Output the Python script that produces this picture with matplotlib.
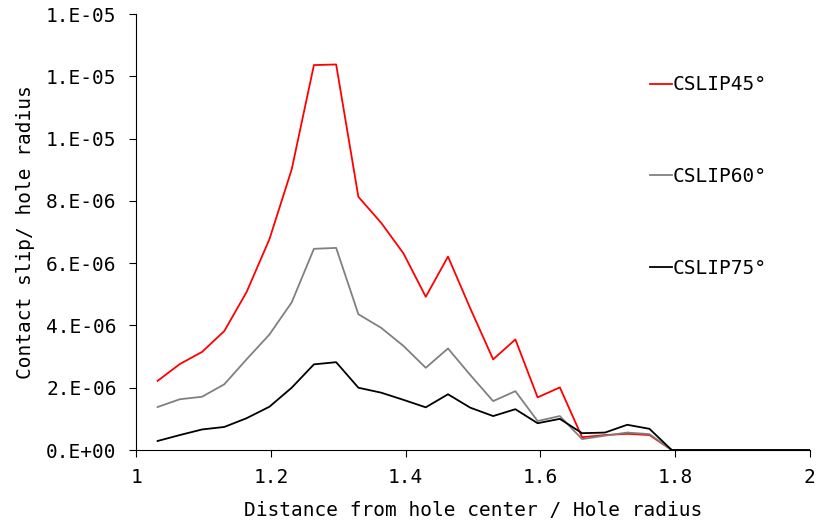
import matplotlib
matplotlib.use("Agg")
import matplotlib.pyplot as plt
from matplotlib.ticker import FuncFormatter, MultipleLocator

# distance from hole center / hole radius
x = [1.032, 1.065, 1.098, 1.131, 1.164, 1.198, 1.231, 1.264, 1.297, 1.330,
     1.364, 1.397, 1.430, 1.463, 1.496, 1.530, 1.563, 1.596, 1.629, 1.662,
     1.696, 1.729, 1.762, 1.795, 1.828, 1.861, 1.895, 1.928, 1.961, 2.0]

cslip45 = [2.22e-6, 2.76e-6, 3.15e-6, 3.82e-6, 5.07e-6, 6.77e-6, 9.01e-6, 1.236e-5, 1.238e-5, 8.13e-6,
           7.29e-6, 6.31e-6, 4.92e-6, 6.21e-6, 4.55e-6, 2.91e-6, 3.55e-6, 1.69e-6, 2.01e-6, 0.41e-6,
           0.48e-6, 0.52e-6, 0.48e-6, 0, 0, 0, 0, 0, 0, 0]
cslip60 = [1.38e-6, 1.63e-6, 1.71e-6, 2.11e-6, 2.91e-6, 3.71e-6, 4.74e-6, 6.46e-6, 6.49e-6, 4.36e-6,
           3.92e-6, 3.34e-6, 2.64e-6, 3.26e-6, 2.41e-6, 1.57e-6, 1.89e-6, 0.93e-6, 1.09e-6, 0.35e-6,
           0.46e-6, 0.56e-6, 0.51e-6, 0, 0, 0, 0, 0, 0, 0]
cslip75 = [0.29e-6, 0.48e-6, 0.66e-6, 0.74e-6, 1.02e-6, 1.39e-6, 2.0e-6, 2.75e-6, 2.82e-6, 2.0e-6,
           1.84e-6, 1.61e-6, 1.37e-6, 1.79e-6, 1.36e-6, 1.09e-6, 1.31e-6, 0.86e-6, 1.0e-6, 0.54e-6,
           0.56e-6, 0.81e-6, 0.68e-6, 0, 0, 0, 0, 0, 0, 0]

plt.rcParams['font.family'] = 'DejaVu Sans Mono'
plt.rcParams['font.size'] = 14

fig = plt.figure(figsize=(8.18, 5.27), dpi=100)
ax = fig.add_axes([0.1663, 0.1461, 0.990 - 0.1663, 0.9734 - 0.1461])

ax.plot(x, cslip45, color="#FF0000", lw=1.3, label="CSLIP45°")
ax.plot(x, cslip60, color="#808080", lw=1.3, label="CSLIP60°")
ax.plot(x, cslip75, color="black", lw=1.3, label="CSLIP75°")

ax.set_xlim(1, 2)
ax.set_ylim(0, 1.4e-5)
ax.xaxis.set_major_locator(MultipleLocator(0.2))
ax.yaxis.set_major_locator(MultipleLocator(2e-6))
ax.xaxis.set_major_formatter(FuncFormatter(lambda v, p: f"{v:g}"))
ax.yaxis.set_major_formatter(FuncFormatter(lambda v, p: f"{v:#.0E}"))

for s in ["top", "right"]:
    ax.spines[s].set_visible(False)
ax.tick_params(axis="y", direction="out", length=5, pad=9)
ax.tick_params(axis="x", direction="out", length=5, pad=8)

ax.set_xlabel("Distance from hole center / Hole radius", labelpad=10)
ax.set_ylabel("Contact slip/ hole radius", labelpad=8)

ax.legend(loc="upper left", bbox_to_anchor=(0.795, 0.857), bbox_transform=fig.transFigure,
          frameon=False, borderpad=0, borderaxespad=0, handlelength=1.1,
          handletextpad=0.05, labelspacing=3.75)

fig.savefig("out.png", dpi=100)
